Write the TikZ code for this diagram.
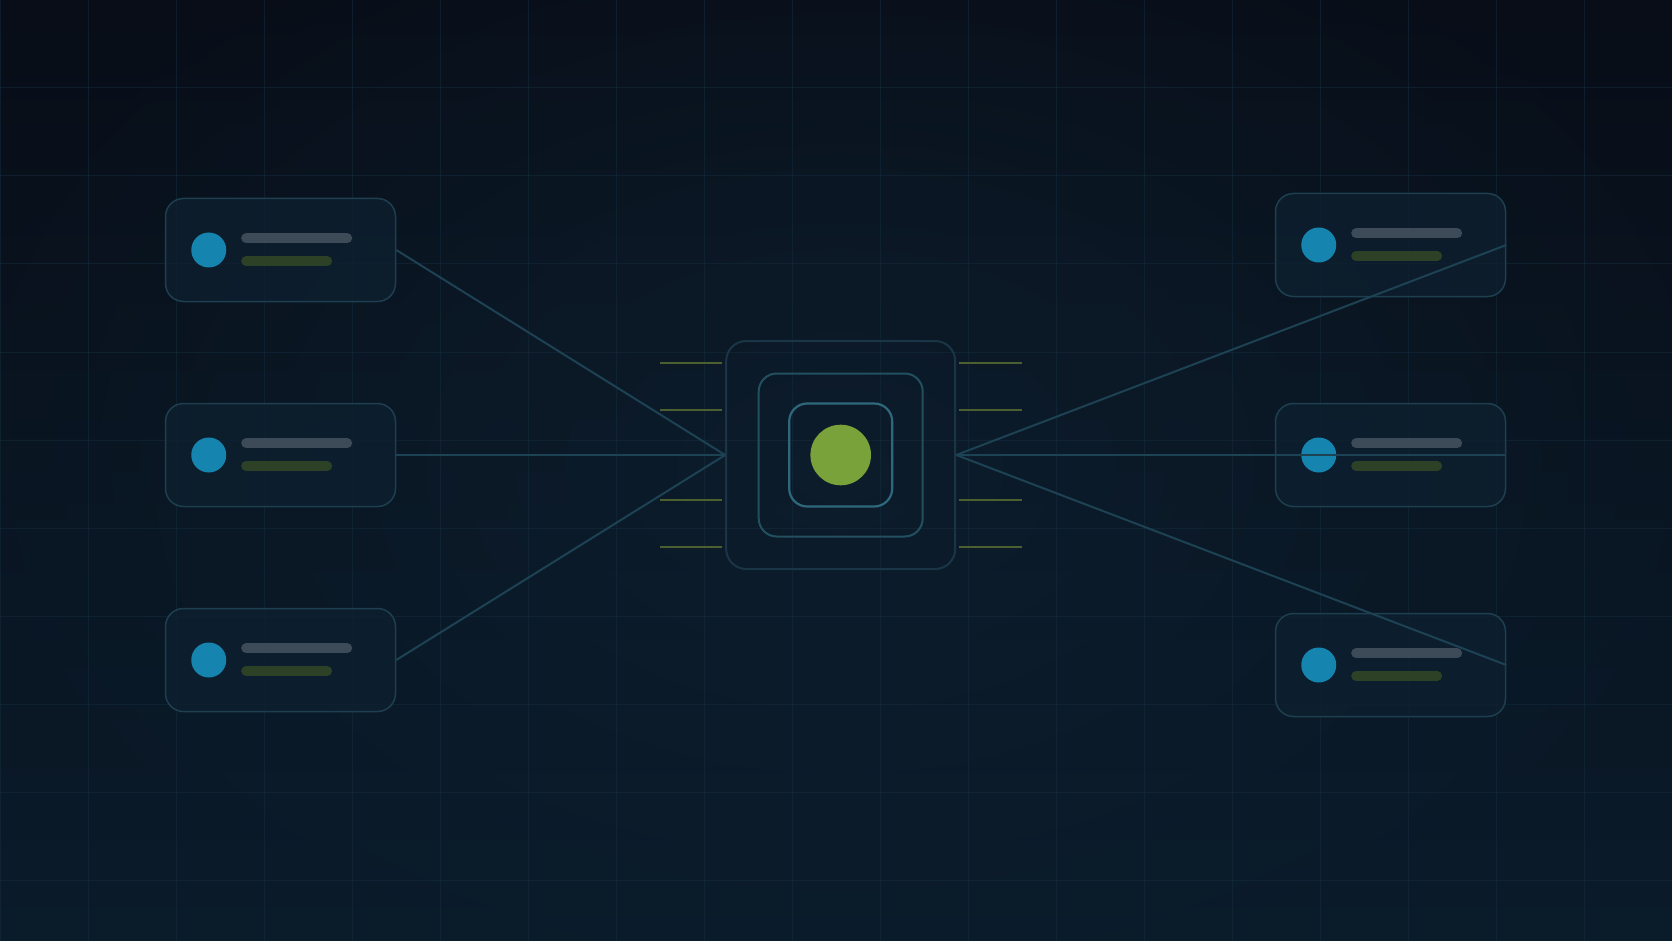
\documentclass[tikz,border=0pt]{standalone}
\usetikzlibrary{calc,fadings}
\tikzfading[name=softglow, inner color=transparent!0, outer color=transparent!100]
\definecolor{bgtop}{HTML}{080D17}
\definecolor{bgbot}{HTML}{0A1B2A}
\definecolor{glow}{HTML}{0E2030}
\definecolor{gridc}{HTML}{173042}
\definecolor{cardfill}{HTML}{0E2030}
\definecolor{cardline}{HTML}{1D3F50}
\definecolor{connc}{HTML}{1D4254}
\definecolor{dotblue}{HTML}{1585B0}
\definecolor{barg}{HTML}{3C4B57}
\definecolor{bargreen}{HTML}{2D4126}
\definecolor{boxa}{HTML}{1A3646}
\definecolor{boxb}{HTML}{22505F}
\definecolor{boxc}{HTML}{2E687D}
\definecolor{hubgreen}{HTML}{7AA23B}
\definecolor{pin}{HTML}{4B5F31}
\begin{document}
\begin{tikzpicture}[x=1pt,y=-1pt,
  card/.style={draw=cardline, fill=cardfill, fill opacity=0.75, line width=1.5pt,
    rounded corners=18pt, minimum width=230pt, minimum height=103pt, inner sep=0pt},
  conn/.style={draw=connc, line width=2pt},
  dot/.style={fill=dotblue},
  graybar/.style={draw=barg, line width=10pt, line cap=round},
  greenbar/.style={draw=bargreen, line width=10pt, line cap=round},
  hubouter/.style={draw=boxa, line width=2pt, rounded corners=20pt, minimum width=229pt, minimum height=228pt, inner sep=0pt},
  hubmid/.style={draw=boxb, line width=2pt, rounded corners=18pt, minimum width=164pt, minimum height=163pt, inner sep=0pt},
  hubinner/.style={draw=boxc, line width=2.2pt, rounded corners=18pt, minimum width=103pt, minimum height=103pt, inner sep=0pt},
  hubdot/.style={circle, fill=hubgreen, minimum size=60.6pt, inner sep=0pt},
  pinline/.style={draw=pin, line width=2.5pt}
]
\useasboundingbox (0,0) rectangle (1672,941);
% background
\shade[top color=bgtop, bottom color=bgbot] (0,0) rectangle (1672,941);
\fill[glow, path fading=softglow, opacity=0.7] (840,470) ellipse [x radius=950pt, y radius=650pt];
% grid
\foreach \i in {0,...,19} {
  \draw[gridc, line width=1pt, opacity=0.45] (88*\i,0) -- (88*\i,941);
}
\foreach \j in {0,...,10} {
  \draw[gridc, line width=1pt, opacity=0.45] (0,88*\j) -- (1672,88*\j);
}
% cards
\node[card] (L1) at (280.5,250) {};
\node[card] (L2) at (280.5,455) {};
\node[card] (L3) at (280.5,660) {};
\node[card] (R1) at (1390.5,245) {};
\node[card] (R2) at (1390.5,455) {};
\node[card] (R3) at (1390.5,665) {};
\foreach \c in {L1,L2,L3,R1,R2,R3} {
  \fill[dot] ($(\c.west)+(44,0)$) circle[radius=17.5pt];
  \draw[graybar] ($(\c.west)+(81.4,-11.7)$) -- ++(101,0);
  \draw[greenbar] ($(\c.west)+(81.4,11)$) -- ++(81,0);
}
% hub
\node[hubouter] (hub) at (840.7,455) {};
\node[hubmid] (hubm) at (hub.center) {};
\node[hubinner] (hubi) at (hub.center) {};
\node[hubdot] (core) at (hub.center) {};
\foreach \dy in {-92,-45,45,92} {
  \draw[pinline] ($(hub.west)+(-3,\dy)$) -- ++(-62.7,0);
  \draw[pinline] ($(hub.east)+(3,\dy)$) -- ++(62.7,0);
}
% connectors
\draw[conn] (L1.east) -- (hub.west);
\draw[conn] (L2.east) -- (hub.west);
\draw[conn] (L3.east) -- (hub.west);
\draw[conn] (hub.east) -- (R1.east);
\draw[conn] (hub.east) -- (R2.east);
\draw[conn] (hub.east) -- (R3.east);
\end{tikzpicture}
\end{document}
